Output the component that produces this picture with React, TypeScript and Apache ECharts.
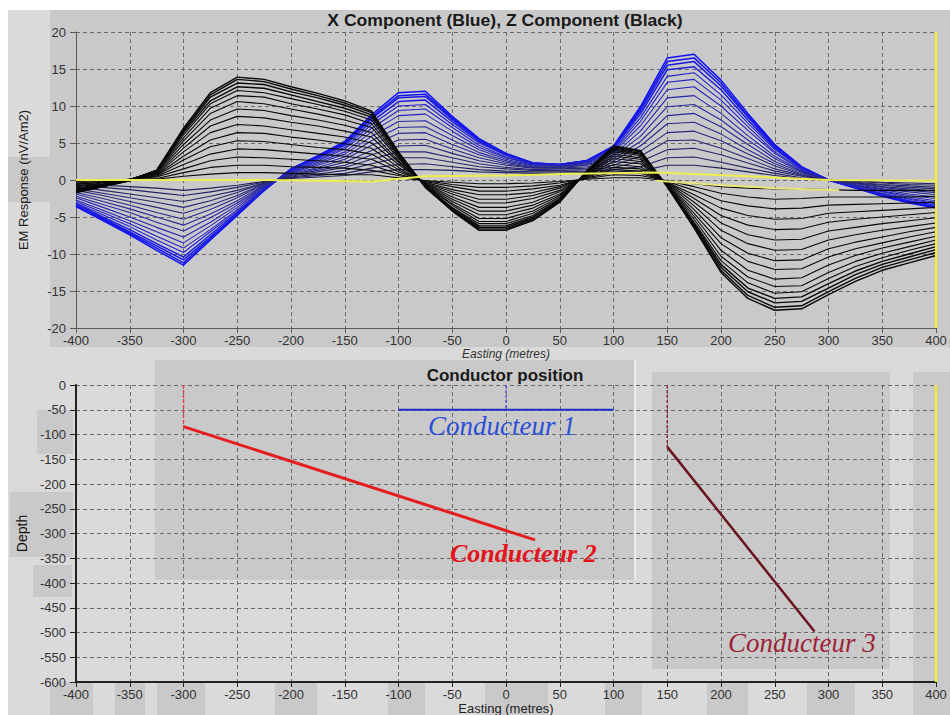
import React, { useEffect, useRef } from "react";
import * as echarts from "echarts";

// Easting stations (m) of the survey profile
const stations = [-400, -375, -350, -325, -300, -275, -250, -225, -200, -175, -150, -125, -100, -75, -50, -25, 0, 25, 50, 75, 100, 125, 150, 175, 200, 225, 250, 275, 300, 325, 350, 375, 400];

// Z component (black) channels, nV/Am2, early to late
const zCh01 = [-1.7, -0.9, -0.1, 1.3, 7.0, 11.8, 13.9, 13.6, 12.6, 11.7, 10.7, 9.3, 3.8, -1.0, -4.2, -6.8, -6.8, -5.5, -3.0, 1.2, 4.6, 4.0, -0.9, -6.5, -12.5, -16.0, -17.6, -17.4, -15.5, -13.7, -12.2, -11.2, -10.2];
const zCh02 = [-1.7, -0.9, -0.1, 1.3, 6.8, 11.5, 13.6, 13.3, 12.3, 11.4, 10.4, 9.1, 3.7, -1.0, -4.1, -6.6, -6.6, -5.4, -2.9, 1.2, 4.5, 3.9, -0.9, -6.3, -12.2, -15.6, -17.2, -17.0, -15.1, -13.3, -11.8, -10.8, -9.8];
const zCh03 = [-1.6, -0.9, 0, 1.3, 6.6, 11.2, 13.1, 12.9, 11.9, 11.1, 10.1, 8.8, 3.6, -0.9, -4.0, -6.4, -6.4, -5.2, -2.8, 1.1, 4.3, 3.8, -0.9, -6.1, -11.8, -15.1, -16.6, -16.4, -14.6, -12.8, -11.4, -10.4, -9.4];
const zCh04 = [-1.5, -0.8, 0, 1.3, 6.4, 10.7, 12.6, 12.4, 11.5, 10.6, 9.7, 8.5, 3.5, -0.9, -3.8, -6.2, -6.2, -5.0, -2.7, 1.1, 4.2, 3.6, -0.8, -5.9, -11.4, -14.6, -16.0, -15.8, -14.0, -12.3, -11.0, -10.0, -9.0];
const zCh05 = [-1.5, -0.8, 0, 1.2, 6.1, 10.3, 12.1, 11.8, 11.0, 10.2, 9.3, 8.1, 3.3, -0.9, -3.7, -5.9, -5.9, -4.8, -2.6, 1.0, 4.0, 3.5, -0.8, -5.7, -10.9, -13.9, -15.3, -15.1, -13.3, -11.7, -10.5, -9.5, -8.6];
const zCh06 = [-1.4, -0.7, 0.1, 1.2, 5.7, 9.7, 11.4, 11.2, 10.3, 9.6, 8.8, 7.6, 3.1, -0.8, -3.4, -5.6, -5.6, -4.5, -2.5, 1.0, 3.8, 3.3, -0.7, -5.3, -10.3, -13.1, -14.4, -14.3, -12.5, -11.0, -9.9, -9.0, -8.1];
const zCh07 = [-1.3, -0.7, 0.1, 1.1, 5.3, 9.0, 10.6, 10.3, 9.6, 8.9, 8.1, 7.1, 2.9, -0.8, -3.2, -5.2, -5.2, -4.2, -2.3, 0.9, 3.5, 3.0, -0.7, -4.9, -9.5, -12.2, -13.4, -13.2, -11.5, -10.2, -9.2, -8.4, -7.6];
const zCh08 = [-1.2, -0.6, 0.1, 1.0, 4.8, 8.1, 9.6, 9.4, 8.7, 8.1, 7.4, 6.4, 2.6, -0.7, -2.9, -4.7, -4.7, -3.8, -2.1, 0.8, 3.2, 2.8, -0.6, -4.5, -8.6, -11.0, -12.1, -12.0, -10.4, -9.3, -8.5, -7.7, -7.0];
const zCh09 = [-1.1, -0.6, 0.1, 0.9, 4.3, 7.3, 8.6, 8.4, 7.8, 7.3, 6.6, 5.8, 2.4, -0.6, -2.6, -4.2, -4.2, -3.4, -1.9, 0.7, 2.9, 2.5, -0.6, -4.0, -7.8, -9.9, -10.9, -10.8, -9.3, -8.4, -7.7, -7.0, -6.4];
const zCh10 = [-0.9, -0.5, 0.1, 0.8, 3.8, 6.4, 7.5, 7.3, 6.8, 6.3, 5.8, 5.0, 2.1, -0.5, -2.3, -3.7, -3.7, -3.0, -1.6, 0.6, 2.5, 2.2, -0.5, -3.5, -6.8, -8.6, -9.5, -9.4, -8.1, -7.4, -6.8, -6.3, -5.8];
const zCh11 = [-0.8, -0.4, 0.1, 0.7, 3.2, 5.4, 6.4, 6.3, 5.8, 5.4, 4.9, 4.3, 1.7, -0.5, -1.9, -3.1, -3.1, -2.5, -1.4, 0.6, 2.1, 1.8, -0.4, -3.0, -5.8, -7.4, -8.1, -8.0, -6.9, -6.4, -5.9, -5.5, -5.1];
const zCh12 = [-0.6, -0.3, 0.1, 0.6, 2.7, 4.5, 5.3, 5.2, 4.8, 4.4, 4.1, 3.5, 1.4, -0.4, -1.6, -2.6, -2.6, -2.1, -1.1, 0.5, 1.7, 1.5, -0.3, -2.5, -4.8, -6.1, -6.7, -6.6, -5.7, -5.3, -5.0, -4.7, -4.4];
const zCh13 = [-0.5, -0.3, 0.1, 0.5, 2.1, 3.5, 4.2, 4.1, 3.8, 3.5, 3.2, 2.8, 1.1, -0.3, -1.3, -2.0, -2.0, -1.7, -0.9, 0.4, 1.4, 1.2, -0.3, -2.0, -3.8, -4.8, -5.3, -5.2, -4.5, -4.3, -4.1, -3.9, -3.7];
const zCh14 = [-0.4, -0.2, 0.1, 0.4, 1.5, 2.6, 3.1, 3.0, 2.8, 2.6, 2.4, 2.0, 0.8, -0.2, -0.9, -1.5, -1.5, -1.2, -0.7, 0.3, 1.0, 0.9, -0.2, -1.4, -2.8, -3.5, -3.9, -3.8, -3.4, -3.3, -3.2, -3.1, -3.0];
const zCh15 = [-0.2, -0.1, 0.1, 0.2, 1.0, 1.7, 2.0, 2.0, 1.8, 1.7, 1.6, 1.3, 0.6, -0.1, -0.6, -1.0, -1.0, -0.8, -0.4, 0.2, 0.7, 0.6, -0.1, -0.9, -1.8, -2.3, -2.6, -2.5, -2.3, -2.3, -2.3, -2.3, -2.2];
const zCh16 = [-0.1, -0.1, 0, 0.1, 0.5, 0.8, 1.0, 1.0, 0.9, 0.8, 0.7, 0.7, 0.3, -0.1, -0.3, -0.5, -0.5, -0.4, -0.2, 0.1, 0.3, 0.3, -0.1, -0.5, -0.9, -1.1, -1.2, -1.2, -1.3, -1.4, -1.4, -1.4, -1.4];

// X component (blue) channels, nV/Am2, early to late
const xCh01 = [-3.6, -5.5, -7.4, -9.5, -11.5, -8.1, -4.8, -1.4, 1.5, 3.3, 5.2, 8.8, 11.8, 12.0, 8.6, 5.6, 3.6, 2.3, 2.1, 2.6, 4.6, 9.9, 16.5, 17.0, 13.5, 9.0, 4.8, 1.8, 0, -1.1, -2.2, -3.1, -3.8];
const xCh02 = [-3.5, -5.3, -7.2, -9.2, -11.2, -7.9, -4.7, -1.4, 1.5, 3.2, 5.0, 8.5, 11.4, 11.6, 8.4, 5.5, 3.5, 2.3, 2.1, 2.6, 4.5, 9.6, 16.0, 16.5, 13.1, 8.7, 4.7, 1.7, 0, -1.1, -2.1, -3.0, -3.7];
const xCh03 = [-3.4, -5.2, -7.0, -8.9, -10.8, -7.7, -4.6, -1.3, 1.4, 3.1, 4.9, 8.3, 11.1, 11.3, 8.2, 5.4, 3.5, 2.3, 2.1, 2.6, 4.4, 9.3, 15.5, 16.0, 12.7, 8.5, 4.5, 1.7, 0, -1.0, -2.1, -2.9, -3.6];
const xCh04 = [-3.2, -5.0, -6.7, -8.6, -10.4, -7.4, -4.4, -1.3, 1.4, 3.0, 4.7, 7.9, 10.6, 10.8, 7.9, 5.2, 3.4, 2.2, 2.1, 2.5, 4.3, 8.9, 14.9, 15.3, 12.2, 8.1, 4.3, 1.6, 0, -1.0, -2.0, -2.8, -3.4];
const xCh05 = [-3.1, -4.7, -6.3, -8.1, -9.8, -7.0, -4.2, -1.2, 1.3, 2.8, 4.4, 7.5, 10.0, 10.2, 7.5, 5.0, 3.3, 2.2, 2.0, 2.5, 4.1, 8.4, 14.0, 14.5, 11.5, 7.7, 4.1, 1.5, 0, -0.9, -1.9, -2.6, -3.2];
const xCh06 = [-2.9, -4.4, -5.9, -7.6, -9.2, -6.7, -4.0, -1.1, 1.2, 2.6, 4.2, 7.0, 9.4, 9.6, 7.1, 4.7, 3.1, 2.1, 2.0, 2.4, 3.9, 7.9, 13.2, 13.6, 10.8, 7.2, 3.8, 1.4, 0, -0.9, -1.8, -2.5, -3.0];
const xCh07 = [-2.7, -4.1, -5.5, -7.0, -8.5, -6.2, -3.7, -1.0, 1.1, 2.4, 3.8, 6.5, 8.7, 8.9, 6.6, 4.4, 3.0, 2.1, 2.0, 2.4, 3.7, 7.3, 12.2, 12.6, 10.0, 6.7, 3.6, 1.3, 0, -0.8, -1.6, -2.3, -2.8];
const xCh08 = [-2.4, -3.7, -5.0, -6.4, -7.7, -5.7, -3.4, -0.9, 1.0, 2.2, 3.5, 5.9, 7.9, 8.0, 6.0, 4.1, 2.8, 2.0, 1.9, 2.3, 3.4, 6.6, 11.1, 11.4, 9.0, 6.0, 3.2, 1.2, 0, -0.7, -1.5, -2.1, -2.5];
const xCh09 = [-2.2, -3.3, -4.4, -5.7, -6.9, -5.1, -3.1, -0.8, 0.9, 2.0, 3.1, 5.3, 7.1, 7.2, 5.4, 3.7, 2.6, 1.9, 1.9, 2.2, 3.2, 5.9, 9.9, 10.2, 8.1, 5.4, 2.9, 1.1, 0, -0.7, -1.3, -1.9, -2.3];
const xCh10 = [-1.9, -2.9, -3.9, -5.0, -6.1, -4.6, -2.8, -0.7, 0.8, 1.7, 2.8, 4.7, 6.3, 6.4, 4.8, 3.4, 2.4, 1.8, 1.8, 2.1, 2.9, 5.2, 8.7, 9.0, 7.2, 4.8, 2.5, 1.0, 0, -0.6, -1.2, -1.6, -2.0];
const xCh11 = [-1.7, -2.5, -3.4, -4.4, -5.3, -4.0, -2.4, -0.6, 0.7, 1.5, 2.4, 4.0, 5.4, 5.5, 4.2, 3.0, 2.2, 1.7, 1.7, 2.0, 2.6, 4.6, 7.6, 7.8, 6.2, 4.1, 2.2, 0.8, 0, -0.5, -1.0, -1.4, -1.7];
const xCh12 = [-1.4, -2.1, -2.9, -3.7, -4.5, -3.4, -2.1, -0.5, 0.6, 1.3, 2.0, 3.4, 4.6, 4.7, 3.6, 2.6, 2.0, 1.6, 1.6, 1.8, 2.3, 3.9, 6.4, 6.6, 5.3, 3.5, 1.9, 0.7, 0, -0.4, -0.9, -1.2, -1.5];
const xCh13 = [-1.2, -1.8, -2.4, -3.0, -3.7, -2.8, -1.7, -0.4, 0.5, 1.1, 1.7, 2.8, 3.8, 3.8, 3.0, 2.2, 1.7, 1.4, 1.5, 1.6, 2.0, 3.2, 5.3, 5.4, 4.3, 2.9, 1.5, 0.6, 0, -0.4, -0.7, -1.0, -1.2];
const xCh14 = [-0.9, -1.4, -1.9, -2.4, -2.9, -2.2, -1.4, -0.4, 0.4, 0.8, 1.3, 2.2, 3.0, 3.0, 2.4, 1.8, 1.5, 1.3, 1.3, 1.4, 1.7, 2.5, 4.1, 4.3, 3.4, 2.3, 1.2, 0.5, 0, -0.3, -0.6, -0.8, -1.0];
const xCh15 = [-0.6, -1.0, -1.3, -1.7, -2.1, -1.6, -1.0, -0.3, 0.3, 0.6, 0.9, 1.6, 2.1, 2.2, 1.8, 1.4, 1.2, 1.1, 1.1, 1.2, 1.4, 1.8, 3.0, 3.1, 2.4, 1.6, 0.9, 0.3, 0, -0.2, -0.4, -0.6, -0.7];
const xCh16 = [-0.4, -0.7, -0.9, -1.1, -1.4, -1.1, -0.7, -0.2, 0.2, 0.4, 0.6, 1.1, 1.4, 1.4, 1.3, 1.1, 1.0, 0.9, 0.9, 1.0, 1.1, 1.2, 2.0, 2.0, 1.6, 1.1, 0.6, 0.2, 0, -0.1, -0.3, -0.4, -0.5];

// Yellow traces
const yellowAEast = [-400, -225, -125, -75, 0, 50, 140, 225, 300, 400];
const yellowAValue = [0.0, 0.0, -0.2, 0.5, 0.6, 0.8, 1.0, 0.5, 0.0, -0.1];
const yellowBEast = [140, 200, 250, 310];
const yellowBValue = [-0.1, -0.7, -1.1, -1.4];

// Conductor geometry (easting m, depth m)
const cond1East = [-100, 100];
const cond1Depth = [-50, -50];
const cond1StemEast = [0, 0];
const cond1StemDepth = [0, -50];
const cond2East = [-300, 27];
const cond2Depth = [-84, -313];
const cond2StemEast = [-300, -300];
const cond2StemDepth = [0, -84];
const cond3East = [150, 287];
const cond3Depth = [-125, -498];
const cond3StemEast = [150, 150];
const cond3StemDepth = [0, -125];

const zChannels = [zCh01, zCh02, zCh03, zCh04, zCh05, zCh06, zCh07, zCh08, zCh09, zCh10, zCh11, zCh12, zCh13, zCh14, zCh15, zCh16];
const xChannels = [xCh01, xCh02, xCh03, xCh04, xCh05, xCh06, xCh07, xCh08, xCh09, xCh10, xCh11, xCh12, xCh13, xCh14, xCh15, xCh16];

const blueShades = ["#1010f5", "#1414ee", "#1818e6", "#1c1cdc", "#2020d2", "#2222c6", "#2424ba", "#2626ae", "#2828a2", "#282896", "#28288a", "#28287e", "#262674", "#24246a", "#222262", "#20205a"];

const pairs = (xs: number[], ys: number[]) => xs.map((x, i) => [x, ys[i]]);

const FONT = "Liberation Sans";
const MID = "#c9c9c9";
const LIGHT = "#dadada";

const lineSeries = (name: string, data: number[][], color: string, width: number, grid: number, extra: any = {}) => ({
  name,
  type: "line",
  xAxisIndex: grid,
  yAxisIndex: grid,
  data,
  symbol: "none",
  showSymbol: false,
  silent: true,
  animation: false,
  emphasis: { disabled: true },
  lineStyle: { color, width, ...(extra.lineStyle || {}) },
});

const rect = (x: number, y: number, w: number, h: number, fill: string) => ({
  type: "rect",
  z: -10,
  silent: true,
  shape: { x, y, width: w, height: h },
  style: { fill },
});

function buildOption() {
  const series: any[] = [];
  xChannels.forEach((ch, i) => series.push(lineSeries("X" + (i + 1), pairs(stations, ch), blueShades[i], i < 4 ? 1.5 : 1.1, 0)));
  zChannels.forEach((ch, i) => series.push(lineSeries("Z" + (i + 1), pairs(stations, ch), "#080808", i < 4 ? 1.4 : 1.1, 0)));
  series.push(lineSeries("YA", pairs(yellowAEast, yellowAValue), "#eeee50", 2, 0));
  series.push(lineSeries("YB", pairs(yellowBEast, yellowBValue), "#e8e878", 2, 0));
  series.push(lineSeries("EdgeTop", [[400, -20], [400, 20]], "#f0f020", 2, 0));

  series.push(lineSeries("C1stem", pairs(cond1StemEast, cond1StemDepth), "#5a5ad0", 1.5, 1, { lineStyle: { type: [3, 2] } }));
  series.push(lineSeries("C2stem", pairs(cond2StemEast, cond2StemDepth), "#e04848", 1.5, 1, { lineStyle: { type: [3, 2] } }));
  series.push(lineSeries("C3stem", pairs(cond3StemEast, cond3StemDepth), "#8a2a3a", 1.5, 1, { lineStyle: { type: [3, 2] } }));
  series.push(lineSeries("C1", pairs(cond1East, cond1Depth), "#1c2fd0", 2, 1));
  series.push(lineSeries("C2", pairs(cond2East, cond2Depth), "#e41e1e", 3, 1));
  series.push(lineSeries("C3", pairs(cond3East, cond3Depth), "#6a1420", 2.5, 1));
  series.push(lineSeries("EdgeBottom", [[400, 0], [400, -600]], "#f0f020", 2, 1));

  const axisLabel = { color: "#333", fontSize: 13, fontFamily: FONT };
  const split = { show: true, lineStyle: { color: "#6a6a6a", type: [4, 3], width: 1 } };

  const xAxisBase = (grid: number, nameStyle: any, lineColor: string, lineWidth: number) => ({
    gridIndex: grid,
    type: "value",
    min: -400,
    max: 400,
    interval: 50,
    axisLine: { show: true, onZero: false, lineStyle: { color: lineColor, width: lineWidth } },
    axisTick: { show: true, length: 5, lineStyle: { color: lineColor } },
    axisLabel: { ...axisLabel, margin: 6 },
    splitLine: split,
    name: "Easting (metres)",
    nameLocation: "middle",
    nameGap: 20,
    nameTextStyle: nameStyle,
  });

  const graphic: any[] = [
    rect(8, 10, 942, 705, LIGHT),
    rect(50, 10, 900, 337, MID),
    rect(8, 157, 42, 45, MID),
    // pasted blocks on the lower panel
    rect(155, 360, 480, 220, MID),
    rect(652, 372, 238, 297, MID),
    rect(913, 372, 37, 343, MID),
    rect(37, 410, 36, 44, MID),
    rect(10, 492, 63, 65, MID),
    rect(33, 565, 39, 32, MID),
    rect(50, 682, 43, 33, MID),
    rect(115, 682, 30, 33, MID),
    rect(157, 682, 48, 33, MID),
    rect(275, 682, 42, 33, MID),
    rect(388, 682, 37, 33, MID),
    rect(485, 682, 63, 33, MID),
    rect(605, 682, 37, 33, MID),
    rect(707, 682, 41, 33, MID),
    rect(807, 682, 48, 33, MID),
    {
      type: "line",
      z: -9,
      silent: true,
      shape: { x1: 635, y1: 360, x2: 635, y2: 580 },
      style: { stroke: "#f4f4f4", lineWidth: 1.5 },
    },
    {
      type: "text",
      x: 505,
      y: 21,
      scaleX: 1.1,
      z: 50,
      style: {
        text: "X Component (Blue), Z Component (Black)",
        font: `bold 16px "${FONT}"`,
        fill: "#1a1a1a",
        textAlign: "center",
        textVerticalAlign: "middle",
      },
    },
    {
      type: "text",
      x: 505,
      y: 375,
      z: 50,
      style: {
        text: "Conductor position",
        font: `bold 17px "${FONT}"`,
        fill: "#1a1a1a",
        textAlign: "center",
        textVerticalAlign: "middle",
      },
    },
    {
      type: "text",
      x: 428,
      y: 426,
      z: 50,
      style: {
        text: "Conducteur 1",
        font: 'italic 27px "Liberation Serif"',
        fill: "#2b4fd6",
        textAlign: "left",
        textVerticalAlign: "middle",
      },
    },
    {
      type: "text",
      x: 450,
      y: 553,
      z: 50,
      style: {
        text: "Conducteur 2",
        font: 'italic bold 26px "Liberation Serif"',
        fill: "#e3141c",
        textAlign: "left",
        textVerticalAlign: "middle",
      },
    },
    {
      type: "text",
      x: 728,
      y: 643,
      z: 50,
      style: {
        text: "Conducteur 3",
        font: 'italic 27px "Liberation Serif"',
        fill: "#9c2438",
        textAlign: "left",
        textVerticalAlign: "middle",
      },
    },
  ];

  return {
    animation: false,
    backgroundColor: "#ffffff",
    textStyle: { fontFamily: FONT },
    grid: [
      { left: 76, top: 32, width: 860, height: 296, outerBoundsMode: "none", containLabel: false },
      { left: 76, top: 385, width: 860, height: 297, outerBoundsMode: "none", containLabel: false },
    ],
    xAxis: [
      xAxisBase(0, { fontStyle: "italic", fontSize: 12, color: "#333", fontFamily: FONT }, "#5a5a5a", 1),
      xAxisBase(1, { fontSize: 13, color: "#222", fontFamily: FONT }, "#222", 2),
    ],
    yAxis: [
      {
        gridIndex: 0,
        type: "value",
        min: -20,
        max: 20,
        interval: 5,
        axisLine: { show: true, onZero: false, lineStyle: { color: "#5a5a5a", width: 1 } },
        axisTick: { show: true, length: 6, lineStyle: { color: "#5a5a5a" } },
        axisLabel: { ...axisLabel, margin: 10 },
        splitLine: split,
        name: "EM Response (nV/Am2)",
        nameLocation: "middle",
        nameGap: 46,
        nameRotate: 90,
        nameTextStyle: { fontSize: 13, color: "#222", fontFamily: FONT },
      },
      {
        gridIndex: 1,
        type: "value",
        min: -600,
        max: 0,
        interval: 50,
        axisLine: { show: true, onZero: false, lineStyle: { color: "#222", width: 2 } },
        axisTick: { show: true, length: 6, lineStyle: { color: "#222" } },
        axisLabel: { ...axisLabel, margin: 10 },
        splitLine: split,
        name: "Depth",
        nameLocation: "middle",
        nameGap: 46,
        nameRotate: 90,
        nameTextStyle: { fontSize: 14, color: "#111", fontFamily: FONT },
      },
    ],
    graphic,
    series,
  };
}

export default function App() {
  const ref = useRef<HTMLDivElement>(null);
  useEffect(() => {
    if (!ref.current) return;
    const chart = echarts.init(ref.current, null, { renderer: "svg" });
    chart.setOption(buildOption() as any);
    return () => chart.dispose();
  }, []);
  return (
    <div
      ref={ref}
      style={{ position: "absolute", left: 0, top: 0, width: 950, height: 715, background: "#fff" }}
    />
  );
}
